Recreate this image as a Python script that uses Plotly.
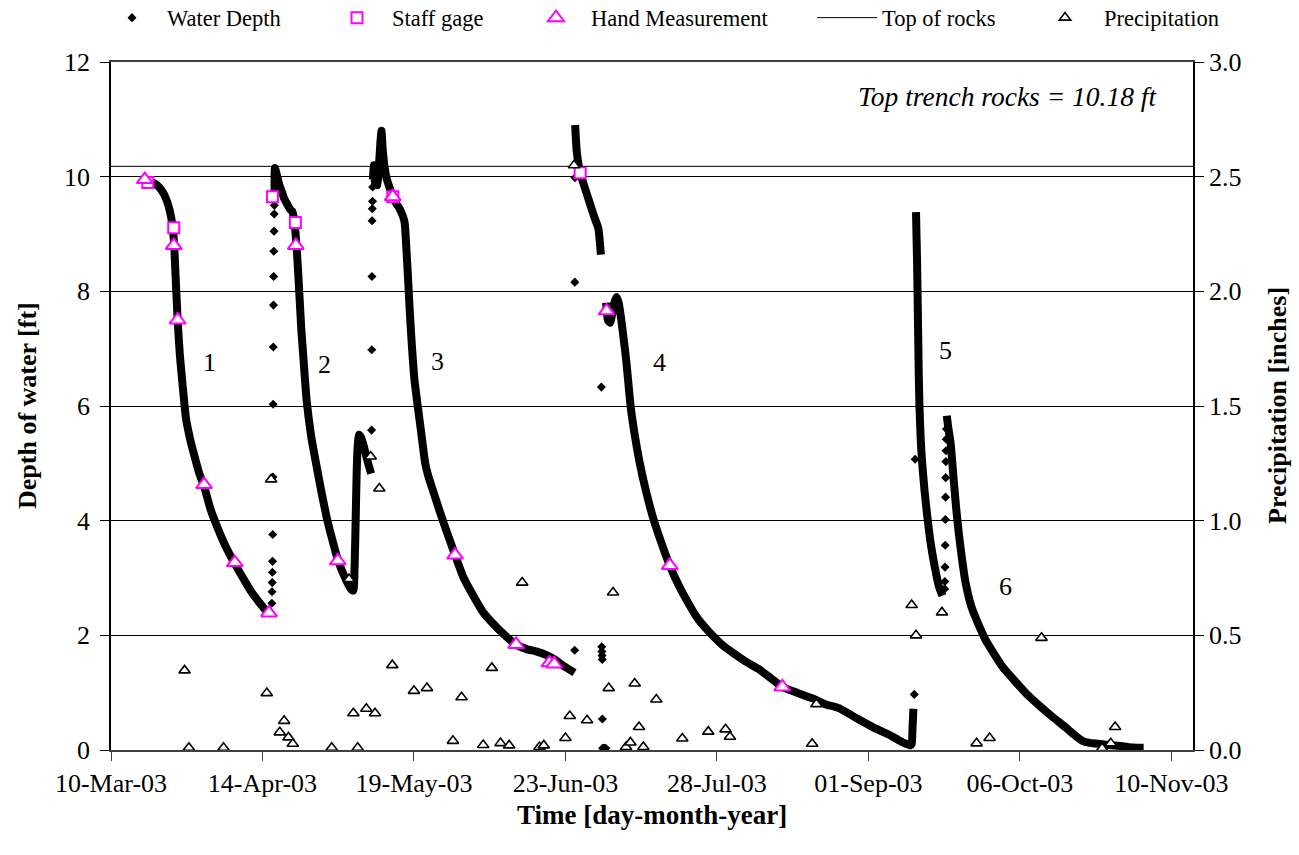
import pandas as pd
import plotly.graph_objects as go

# ---------------------------------------------------------------------------
# Monitoring record, 2003.  Times are elapsed days since 10-Mar-03 00:00.
# ---------------------------------------------------------------------------
START = pd.Timestamp("2003-03-10")
END = pd.Timestamp("2003-11-15")

# continuous logger record, one list per recession event
seg1_day = [7.6, 9.0, 10.5, 11.8, 12.8, 13.6, 14.2, 14.6, 14.9, 15.4, 15.9, 16.5, 17.3,
            18.2, 19.2, 20.5, 21.5, 23.0, 24.5, 26.5, 28.6, 30.5, 32.5, 34.5, 35.9]
seg1_ft = [9.97, 9.92, 9.86, 9.75, 9.6, 9.4, 9.15, 8.8, 8.3, 7.5, 6.9, 6.4, 5.8,
           5.45, 5.15, 4.8, 4.6, 4.2, 3.9, 3.55, 3.25, 3.0, 2.75, 2.55, 2.42]

seg2_day = [37.79, 37.875, 38.42, 38.92, 39.42, 40.0, 40.5, 41.0, 41.5, 41.83, 42.2, 42.6,
            42.9, 43.2, 44.0, 44.4, 45.2, 46.3, 47.5, 48.5, 50.0, 51.2, 52.4, 54.4, 55.5,
            56.0, 56.25, 56.5, 56.75, 57.0, 57.3, 57.8, 58.4, 59.0, 59.6, 60.1]
seg2_ft = [9.7, 10.15, 10.0, 9.85, 9.75, 9.62, 9.55, 9.48, 9.42, 9.4, 9.3, 9.05,
           8.75, 8.4, 7.3, 6.9, 6.1, 5.45, 4.95, 4.55, 4.0, 3.65, 3.32, 2.95, 2.8,
           2.78, 3.1, 3.9, 4.8, 5.3, 5.5, 5.45, 5.3, 5.12, 4.95, 4.82]

seg3_day = [60.5, 60.75, 61.0, 61.25, 61.5, 61.75, 62.0, 62.25, 62.5, 62.75, 63.25, 63.75,
            64.5, 65.1, 66.0, 66.7, 67.8, 68.2, 68.6, 69.0, 69.4, 70.1, 71.3, 71.8, 72.6,
            73.3, 74.5, 76.0, 77.7, 79.5, 81.5, 84.4, 86.0, 88.2, 91.0, 93.6, 96.0, 98.2,
            100.5, 102.5, 104.5, 107.1]
seg3_ft = [9.95, 10.2, 9.9, 10.1, 9.85, 10.0, 10.3, 10.6, 10.8, 10.5, 10.15, 9.95,
           9.78, 9.65, 9.52, 9.44, 9.22, 8.8, 8.28, 7.7, 7.19, 6.47, 5.75, 5.46, 5.0,
           4.78, 4.5, 4.15, 3.78, 3.4, 3.0, 2.6, 2.4, 2.21, 2.0, 1.84, 1.76, 1.72,
           1.66, 1.58, 1.47, 1.35]

seg4a_day = [107.25, 107.6, 108.4, 109.8, 111.0, 111.7, 112.6, 112.9, 113.2]
seg4a_ft = [10.9, 10.45, 10.07, 9.73, 9.45, 9.29, 9.1, 8.9, 8.64]

seg4b_day = [114.4, 114.8, 115.3, 115.8, 116.3, 116.8, 117.3, 117.8, 118.4, 119.0, 120.1,
             121.0, 122.1, 123.5, 125.1, 127.0, 129.1, 131.0, 132.8, 135.5, 138.2, 141.0,
             143.6, 146.5, 149.7, 152.5, 155.1, 158.5, 162.1, 165.0, 168.2, 172.8, 176.0,
             179.7, 182.5, 184.7, 185.0, 185.2, 185.4]
seg4b_ft = [7.8, 7.5, 7.45, 7.6, 7.8, 7.9, 7.8, 7.56, 7.2, 6.83, 5.97,
            5.5, 5.03, 4.55, 4.09, 3.65, 3.22, 2.9, 2.64, 2.3, 2.06, 1.85,
            1.7, 1.55, 1.41, 1.25, 1.1, 1.0, 0.9, 0.8, 0.73, 0.53, 0.4,
            0.27, 0.15, 0.08, 0.1, 0.4, 0.72]

seg5_day = [186.0, 186.25, 186.45, 186.65, 186.8, 187.1, 187.4, 188.0, 188.6, 189.5,
            190.5, 191.3, 192.1]
seg5_ft = [9.38, 8.5, 7.5, 6.5, 5.99, 5.4, 5.03, 4.5, 4.08, 3.55, 3.13, 2.85, 2.69]

seg6_day = [193.1, 193.5, 194.0, 194.7, 195.3, 195.9, 196.6, 197.4, 198.8, 200.5, 202.0,
            203.6, 206.0, 209.0, 211.5, 214.4, 217.5, 220.5, 222.5, 224.7, 226.5, 228.2,
            230.0, 232.0, 235.1, 237.0, 238.6]
seg6_ft = [5.83, 5.6, 5.35, 4.72, 4.2, 3.77, 3.35, 2.94, 2.5, 2.18, 1.93,
           1.73, 1.45, 1.19, 0.98, 0.78, 0.58, 0.4, 0.27, 0.15, 0.12, 0.11,
           0.09, 0.08, 0.05, 0.04, 0.04]

# individual logger readings during fast rises and sensor dropouts
rise_day = [37.17, 37.21, 37.25, 37.29, 37.33, 37.37, 37.42, 37.46, 37.5, 37.54, 37.58,
            37.62, 37.67, 37.71, 37.75,
            60.21, 60.25, 60.29, 60.33, 60.37, 60.42, 60.46,
            107.13, 107.17, 107.21,
            113.3, 113.38, 113.42, 113.46, 113.5, 113.54, 113.58, 113.83, 114.08, 114.33,
            185.6, 185.8,
            192.62, 192.66, 192.7, 192.74, 192.78, 192.82, 192.86, 192.9, 192.94, 192.98,
            193.02]
rise_ft = [2.56, 2.76, 2.92, 3.1, 3.29, 3.76, 4.76, 6.03, 7.03, 7.76, 8.26,
           8.7, 9.05, 9.35, 9.5,
           5.58, 6.98, 8.26, 9.23, 9.44, 9.57, 9.82,
           1.74, 8.16, 9.98,
           6.33, 1.8, 1.72, 1.65, 1.58, 0.54, 0.03, 0.03, 0.03, 0.03,
           0.97, 5.07,
           2.81, 2.94, 3.19, 3.57, 4.02, 4.41, 4.75, 5.03, 5.22, 5.42,
           5.6]

staff_day = [8.5, 14.5, 37.3, 42.6, 65.1, 108.4]
staff_ft = [9.9, 9.11, 9.65, 9.2, 9.65, 10.07]

hand_day = [7.8, 14.5, 15.4, 21.5, 28.6, 36.5, 42.7, 52.4, 65.1, 79.5, 93.6, 101.3,
            102.4, 114.5, 129.1, 155.1]
hand_ft = [9.95, 8.8, 7.5, 4.63, 3.27, 2.39, 8.8, 3.3, 9.65, 3.4, 1.84, 1.52,
           1.5, 7.66, 3.22, 1.1]

rain_day = [17, 18, 26, 36, 37, 39, 40, 41, 42, 51, 55, 56, 57, 59, 60, 61, 62, 65, 70,
            73, 79, 81, 86, 88, 90, 92, 95, 99, 100, 105, 106, 107, 110, 115, 116, 119,
            120, 121, 122, 123, 126, 132, 138, 142, 143, 162, 163, 185, 186, 192, 200,
            203, 215, 229, 231, 232]
rain_in = [0.347, 0.01, 0.01, 0.248, 1.18, 0.077, 0.127, 0.055, 0.027, 0.01, 0.745,
           0.16, 0.01, 0.18, 1.28, 0.16, 1.14, 0.37, 0.258, 0.27, 0.04, 0.23, 0.022,
           0.358, 0.03, 0.02, 0.73, 0.013, 0.02, 0.052, 0.148, 2.55, 0.13, 0.27, 0.687,
           0.013, 0.033, 0.29, 0.1, 0.013, 0.22, 0.05, 0.08, 0.09, 0.058, 0.027, 0.2,
           0.632, 0.5, 0.6, 0.029, 0.052, 0.489, 0.008, 0.029, 0.1]

TOP_OF_ROCKS_FT = 10.18

event_names = ["1", "2", "3", "4", "5", "6"]
event_label_day = [22.7, 49.4, 75.5, 126.7, 192.8, 206.7]
event_label_ft = [6.76, 6.73, 6.78, 6.76, 6.97, 2.86]

# ---------------------------------------------------------------------------
FONT = "Times New Roman, Liberation Serif, Tinos, DejaVu Serif, serif"
MAGENTA = "#FF00FF"
W, H = 1299, 855
ML, MR, MT, MB = 111, 106, 62, 105
PLOT_W = W - ML - MR
PLOT_H = H - MT - MB


def to_time(days):
    return [START + pd.Timedelta(days=float(d)) for d in days]


def px_x(px):
    return (px - ML) / PLOT_W


def px_y(py):
    return (H - MB - py) / PLOT_H


segments = [(seg1_day, seg1_ft), (seg2_day, seg2_ft), (seg3_day, seg3_ft),
            (seg4a_day, seg4a_ft), (seg4b_day, seg4b_ft), (seg5_day, seg5_ft),
            (seg6_day, seg6_ft)]
band_x, band_y = [], []
for days, depth in segments:
    band_x += to_time(days) + [None]
    band_y += list(depth) + [None]

fig = go.Figure()

# dense logger record drawn as a thick band
fig.add_trace(go.Scatter(
    x=band_x, y=band_y, mode="lines", connectgaps=False,
    line=dict(color="black", width=8, shape="spline", smoothing=0.5),
    showlegend=False, hoverinfo="skip"))

fig.add_trace(go.Scatter(
    x=to_time(rise_day), y=rise_ft, mode="markers", name="Water Depth",
    marker=dict(symbol="diamond", size=7, color="black"), legend="legend"))

fig.add_trace(go.Scatter(
    x=to_time(staff_day), y=staff_ft, mode="markers", name="Staff gage",
    marker=dict(symbol="square", size=11, color="white",
                line=dict(color=MAGENTA, width=2)), legend="legend2"))

fig.add_trace(go.Scatter(
    x=to_time(hand_day), y=hand_ft, mode="markers", name="Hand Measurement",
    marker=dict(symbol="triangle-up", size=14, color="white",
                line=dict(color=MAGENTA, width=2)), legend="legend3"))

fig.add_trace(go.Scatter(
    x=[START, END], y=[TOP_OF_ROCKS_FT, TOP_OF_ROCKS_FT], mode="lines",
    name="Top of rocks", line=dict(color="black", width=1), legend="legend4"))

fig.add_trace(go.Scatter(
    x=to_time(rain_day), y=rain_in, mode="markers", name="Precipitation",
    marker=dict(symbol="triangle-up", size=10, color="white",
                line=dict(color="black", width=1.6)),
    yaxis="y2", legend="legend5"))


def legend_box(text_left_px, itemwidth):
    left = text_left_px - (itemwidth + 10)
    return dict(x=px_x(left), y=px_y(18),
                xanchor="left", yanchor="middle", orientation="h",
                bgcolor="rgba(0,0,0,0)", borderwidth=0, itemwidth=itemwidth,
                font=dict(family=FONT, size=22.5, color="black"))


tick_font = dict(family=FONT, size=26, color="black")
title_font = dict(family=FONT, size=26, color="black")

annotations = []
for name, d, v in zip(event_names, event_label_day, event_label_ft):
    annotations.append(dict(x=to_time([d])[0], y=v, xref="x", yref="y", text=name,
                            xanchor="center", yanchor="middle", showarrow=False,
                            font=dict(family=FONT, size=26, color="black")))

annotations += [
    dict(x=px_x(1008), y=px_y(97), xref="paper", yref="paper",
         xanchor="center", yanchor="middle",
         text=f"<i>Top trench rocks = {TOP_OF_ROCKS_FT:.2f} ft</i>", showarrow=False,
         font=dict(family=FONT, size=27.5, color="black")),
    dict(x=0.5, y=px_y(815), xref="paper", yref="paper",
         xanchor="center", yanchor="middle",
         text="<b>Time [day-month-year]</b>", showarrow=False,
         font=dict(family=FONT, size=27, color="black")),
    dict(x=px_x(27), y=0.5, xref="paper", yref="paper", textangle=-90,
         xanchor="center", yanchor="middle",
         text="<b>Depth of water [ft]</b>", showarrow=False, font=title_font),
    dict(x=px_x(1277), y=0.5, xref="paper", yref="paper", textangle=-90,
         xanchor="center", yanchor="middle",
         text="<b>Precipitation [inches]</b>", showarrow=False, font=title_font),
]

fig.update_layout(
    width=W, height=H,
    margin=dict(l=ML, r=MR, t=MT, b=MB, autoexpand=False),
    paper_bgcolor="white", plot_bgcolor="white",
    font=dict(family=FONT, color="black"),
    xaxis=dict(type="date", range=[START, END], tick0=START, dtick=35 * 86400000,
               tickformat="%d-%b-%y", ticks="outside", ticklen=9, tickwidth=1,
               tickcolor="#404040", showline=True, linecolor="#404040", linewidth=2,
               mirror=True, showgrid=False, zeroline=False, tickfont=tick_font,
               automargin=False),
    yaxis=dict(range=[0, 12], dtick=2, ticks="outside", ticklen=9, tickcolor="black",
               showline=True, linecolor="black", linewidth=1.5, showgrid=True,
               gridcolor="black", gridwidth=1, zeroline=False, tickfont=tick_font,
               ticklabelstandoff=5, automargin=False),
    yaxis2=dict(range=[0, 3], dtick=0.5, tickformat=".1f", overlaying="y", side="right",
                ticks="outside", ticklen=9, tickcolor="black", showline=True,
                linecolor="black", linewidth=1.5, showgrid=False, zeroline=False,
                tickfont=tick_font, automargin=False),
    legend=legend_box(167, 60),
    legend2=legend_box(392, 60),
    legend3=legend_box(591, 60),
    legend4=legend_box(882, 60),
    legend5=legend_box(1104, 68),
    annotations=annotations,
)

fig.write_html("out.html")
